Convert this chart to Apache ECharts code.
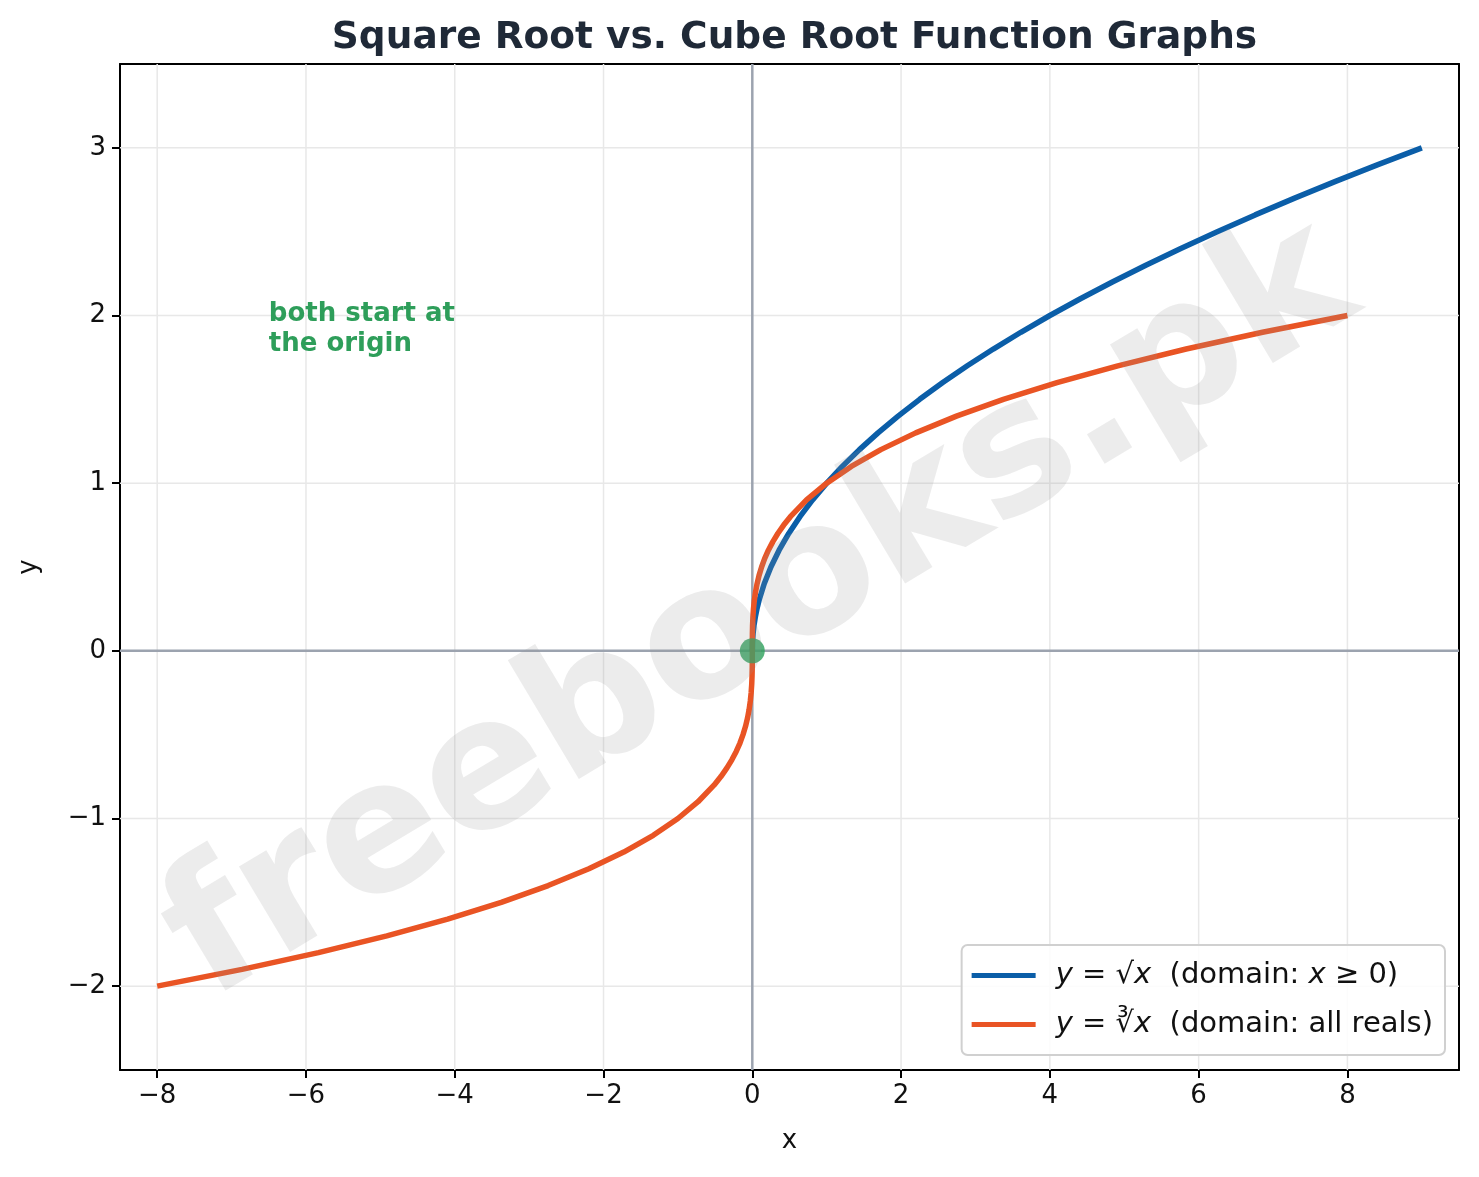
<!DOCTYPE html>
<html>
<head>
<meta charset="utf-8">
<script src="https://cdn.jsdelivr.net/npm/echarts@6/dist/echarts.min.js"></script>
<style>html,body{margin:0;padding:0;background:#fff;}#c{width:1479px;height:1177px;}</style>
</head>
<body>
<div id="c"></div>
<script>
// ---- data ----
const sqrtX = [0, 0.0025, 0.01, 0.0225, 0.04, 0.0625, 0.09, 0.16, 0.25, 0.36, 0.49, 0.64, 0.81, 1, 1.21, 1.44, 1.69, 1.96, 2.25, 2.56, 2.89, 3.24, 3.61, 4, 4.41, 4.84, 5.29, 5.76, 6.25, 6.76, 7.29, 7.84, 8.41, 9];
const sqrtY = [0, 0.05, 0.1, 0.15, 0.2, 0.25, 0.3, 0.4, 0.5, 0.6, 0.7, 0.8, 0.9, 1, 1.1, 1.2, 1.3, 1.4, 1.5, 1.6, 1.7, 1.8, 1.9, 2, 2.1, 2.2, 2.3, 2.4, 2.5, 2.6, 2.7, 2.8, 2.9, 3];
const cbrtX = [-8, -6.859, -5.832, -4.913, -4.096, -3.375, -2.744, -2.197, -1.728, -1.331, -1, -0.729, -0.512, -0.422, -0.343, -0.275, -0.216, -0.166, -0.125, -0.091, -0.064, -0.043, -0.027, -0.0156, -0.008, -0.0034, -0.001, -0.000125, 0,
               0.000125, 0.001, 0.0034, 0.008, 0.0156, 0.027, 0.043, 0.064, 0.091, 0.125, 0.166, 0.216, 0.275, 0.343, 0.422, 0.512, 0.729, 1, 1.331, 1.728, 2.197, 2.744, 3.375, 4.096, 4.913, 5.832, 6.859, 8];
const cbrtY = [-2, -1.9, -1.8, -1.7, -1.6, -1.5, -1.4, -1.3, -1.2, -1.1, -1, -0.9, -0.8, -0.75, -0.7, -0.65, -0.6, -0.55, -0.5, -0.45, -0.4, -0.35, -0.3, -0.25, -0.2, -0.15, -0.1, -0.05, 0,
               0.05, 0.1, 0.15, 0.2, 0.25, 0.3, 0.35, 0.4, 0.45, 0.5, 0.55, 0.6, 0.65, 0.7, 0.75, 0.8, 0.9, 1, 1.1, 1.2, 1.3, 1.4, 1.5, 1.6, 1.7, 1.8, 1.9, 2];
const originPoint = [0, 0];
const xTicks = [-8, -6, -4, -2, 0, 2, 4, 6, 8];
const yTicks = [-2, -1, 0, 1, 2, 3];
const xRange = [-8.5, 9.5];
const yRange = [-2.5, 3.5];
const annotationText = 'both start at\nthe origin';
const annotationPos = [-6.5, 1.92];
const titleText = 'Square Root vs. Cube Root Function Graphs';
const sqrtName = 'sqrt';
const cbrtName = 'cbrt';
const watermark = 'freebooks.pk';

// ---- build ----
const FONT = 'DejaVu Sans';
const sqrtData = sqrtX.map((x, i) => [x, sqrtY[i]]);
const cbrtData = cbrtX.map((x, i) => [x, cbrtY[i]]);
const fmt = v => (v < 0 ? '\u2212' + Math.abs(v) : String(v));

function refLine(data, color, width, z) {
  return {
    type: 'line', data: data, showSymbol: false, silent: true, z: z,
    lineStyle: { color: color, width: width }, itemStyle: { color: color },
    emphasis: { disabled: true }, tooltip: { show: false }
  };
}
const gridSeries = [];
xTicks.forEach(v => gridSeries.push(refLine([[v, yRange[0]], [v, yRange[1]]], '#e8e8e8', 1.5, 1)));
yTicks.forEach(v => gridSeries.push(refLine([[xRange[0], v], [xRange[1], v]], '#e8e8e8', 1.5, 1)));
gridSeries.push(refLine([[0, yRange[0]], [0, yRange[1]]], '#9ca3af', 2.5, 2));
gridSeries.push(refLine([[xRange[0], 0], [xRange[1], 0]], '#9ca3af', 2.5, 2));

const chart = echarts.init(document.getElementById('c'));
chart.setOption({
  animation: false,
  backgroundColor: '#ffffff',
  textStyle: { fontFamily: FONT },
  title: {
    text: titleText,
    left: 789.5, textAlign: 'center', top: 14,
    textStyle: { fontFamily: FONT, fontSize: 37.5, fontWeight: 'bold', color: '#1f2937' }
  },
  grid: { left: 120, right: 20, top: 64, bottom: 107 },
  legend: {
    data: [sqrtName, cbrtName],
    orient: 'vertical',
    right: 34, bottom: 122,
    icon: 'rect',
    itemWidth: 64, itemHeight: 5,
    itemGap: 20,
    padding: [16, 12, 16, 10],
    backgroundColor: 'rgba(255,255,255,0.85)',
    borderColor: '#d0d0d0', borderWidth: 2, borderRadius: 6,
    z: 20,
    formatter: function (name) {
      if (name === sqrtName) return '{sp|}{i|y} = \u221A{i|x}  (domain: {i|x} \u2265 0)';
      return '{sp|}{i|y} = \u221B{i|x}  (domain: all reals)';
    },
    textStyle: {
      fontFamily: FONT, fontSize: 29, color: '#111',
      rich: {
        sp: { width: 15 },
        i: { fontFamily: FONT, fontSize: 29, fontStyle: 'italic', color: '#111' }
      }
    }
  },
  xAxis: [{
    type: 'value', min: xRange[0], max: xRange[1],
    name: 'x', nameLocation: 'middle', nameGap: 58,
    nameTextStyle: { fontFamily: FONT, fontSize: 26, color: '#111' },
    axisLine: { onZero: false, lineStyle: { color: '#000', width: 2 } },
    axisTick: { customValues: xTicks, length: 8, lineStyle: { color: '#000', width: 2 } },
    axisLabel: { customValues: xTicks, formatter: fmt, fontFamily: FONT, fontSize: 26, color: '#111', margin: 13 },
    splitLine: { show: false }
  }, {
    type: 'value', position: 'top', min: xRange[0], max: xRange[1],
    axisLine: { onZero: false, show: true, lineStyle: { color: '#000', width: 2 } },
    axisTick: { show: false }, axisLabel: { show: false }, splitLine: { show: false }
  }],
  yAxis: [{
    type: 'value', min: yRange[0], max: yRange[1],
    name: 'y', nameLocation: 'middle', nameGap: 78, nameRotate: 90,
    nameTextStyle: { fontFamily: FONT, fontSize: 26, color: '#111' },
    axisLine: { show: true, onZero: false, lineStyle: { color: '#000', width: 2 } },
    axisTick: { show: true, customValues: yTicks, length: 8, lineStyle: { color: '#000', width: 2 } },
    axisLabel: { customValues: yTicks, formatter: fmt, fontFamily: FONT, fontSize: 26, color: '#111', margin: 14 },
    splitLine: { show: false }
  }, {
    type: 'value', position: 'right', min: yRange[0], max: yRange[1],
    axisLine: { show: true, onZero: false, lineStyle: { color: '#000', width: 2 } },
    axisTick: { show: false }, axisLabel: { show: false }, splitLine: { show: false }
  }],
  series: gridSeries.concat([
    {
      name: sqrtName, type: 'line', data: sqrtData, showSymbol: false, z: 3,
      lineStyle: { color: '#0b5ea8', width: 5.5 }, itemStyle: { color: '#0b5ea8' }
    },
    {
      name: cbrtName, type: 'line', data: cbrtData, showSymbol: false, z: 4,
      lineStyle: { color: '#e95424', width: 5.5 }, itemStyle: { color: '#e95424' }
    },
    {
      name: 'origin', type: 'scatter', data: [originPoint], symbolSize: 25, z: 5,
      itemStyle: { color: '#2ca05a' },
      markPoint: {
        silent: true, symbol: 'circle', symbolSize: 0,
        data: [{
          coord: annotationPos, value: 0,
          label: {
            show: true, position: 'right', distance: 0, formatter: annotationText,
            fontFamily: FONT, fontSize: 26, fontWeight: 'bold', color: '#2e9e5a', lineHeight: 30, align: 'left'
          }
        }]
      }
    }
  ]),
  graphic: [{
    type: 'text', z: 100, silent: true,
    x: 762, y: 614, rotation: 0.54,
    style: {
      text: watermark, font: 'bold 182px "DejaVu Sans"',
      fill: 'rgba(150,150,150,0.18)', align: 'center', verticalAlign: 'middle'
    }
  }]
});
</script>
</body>
</html>
